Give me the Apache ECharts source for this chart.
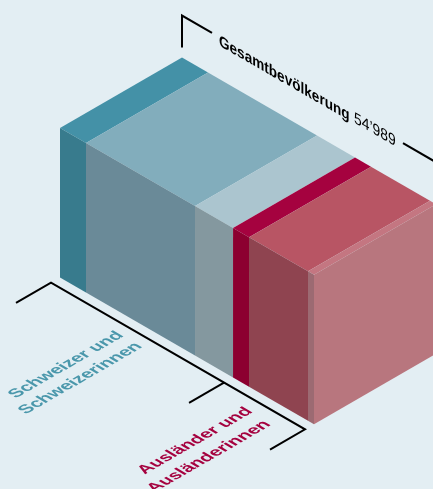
<!DOCTYPE html>
<html>
<head>
<meta charset="utf-8">
<style>html,body{margin:0;padding:0;background:#e3eef3}#chart{width:433px;height:489px}</style>
<script src="https://cdn.jsdelivr.net/npm/echarts@6/dist/echarts.min.js"></script>
</head>
<body>
<div id="chart"></div>
<script>
// Population segments along the long edge of the block, in thousands
const segmentValues = [5630, 23600, 8230, 3460, 12770, 1299];
const totalLabel = "54’989";
const totalValue = 54989;
const swissSegments = 3;

const topColors   = ['#4491a7', '#82adbc', '#abc5cf', '#a5023f', '#b85564', '#c47681'];
const frontColors = ['#387b8d', '#6a8a98', '#84989f', '#8c0030', '#8f4450', '#9c6a72'];
const sideColor = '#b8767e';
const swissColor = '#4a97ab';
const foreignColor = '#a5023f';

const swissLabel = ['Schweizer und', 'Schweizerinnen'];
const foreignLabel = ['Ausländer und', 'Ausländerinnen'];
const totalTitle = 'Gesamtbevölkerung';

// Isometric projection constants
const SLOPE = Math.tan(Math.PI / 6);
const DEPTH = 122;

let cum = 0;
const rows = segmentValues.map(function (v, i) {
  const row = [cum, cum + v, i];
  cum += v;
  return row;
});
const swissEnd = rows[swissSegments - 1][1];

// Maps (population, height, depth in px) to screen px via the chart's axes
function projector(api) {
  const x0 = api.coord([0, 0])[0];
  return function (pop, h, d) {
    const p = api.coord([pop, h]);
    return [p[0] + d, p[1] + (p[0] - x0) * SLOPE - d * SLOPE];
  };
}

function poly(points, fill) {
  return { type: 'polygon', shape: { points: points }, style: { fill: fill }, silent: true };
}

function polyline(points) {
  return { type: 'polyline', shape: { points: points }, style: { fill: 'none', stroke: '#000', lineWidth: 2 }, silent: true };
}

function renderBlock(params, api) {
  const a = api.value(0), b = api.value(1), i = api.value(2);
  const P = projector(api);
  const children = [
    poly([P(a, 1, 0), P(b, 1, 0), P(b, 1, DEPTH), P(a, 1, DEPTH)], topColors[i]),
    poly([P(a, 1, 0), P(b, 1, 0), P(b, 0, 0), P(a, 0, 0)], frontColors[i])
  ];
  if (i === segmentValues.length - 1) {
    children.push(poly([P(b, 1, 0), P(b, 1, DEPTH), P(b, 0, DEPTH), P(b, 0, 0)], sideColor));
  }
  return { type: 'group', children: children };
}

// Places text under an arbitrary linear map: u and v are the images of the
// glyph x and y axes. The map is split into rotate / scale / rotate so it can
// be expressed with nested group transforms.
function mappedText(text, at, u, v, font, fill) {
  const E = (u[0] + v[1]) / 2, F = (u[0] - v[1]) / 2, G = (u[1] + v[0]) / 2, H = (u[1] - v[0]) / 2;
  const Q = Math.hypot(E, H), R = Math.hypot(F, G);
  const a1 = Math.atan2(G, F), a2 = Math.atan2(H, E);
  const theta = (a2 - a1) / 2, phi = (a2 + a1) / 2;
  return {
    type: 'group', x: at[0], y: at[1], rotation: -phi, scaleX: Q + R, scaleY: Q - R,
    children: [{
      type: 'text', rotation: -theta, silent: true,
      style: { text: text, x: 0, y: 0, font: font, fill: fill, textAlign: 'left', textVerticalAlign: 'top' }
    }]
  };
}

const FACE_U = [0.866, 0.5], FACE_V = [0, 1];
const TITLE_U = [0.866 * 0.98, 0.5 * 0.98];
const FLOOR_U = [0.866 * 1.12, -0.5 * 1.12], FLOOR_V = [0.866 * 1.05, 0.5 * 1.05];

function renderNotes(params, api) {
  const P = projector(api);
  const FONT_B = 'bold 16px "Liberation Sans", Arial, sans-serif';
  const FONT_R = '16px "Liberation Sans", Arial, sans-serif';
  const top = 1 + 42 / 149.5;
  const f = -9, t = -44;
  const gapA = 30 * totalValue / 254, gapB = 221 * totalValue / 254;
  const tickEnd = 1 + 10 / 149.5;
  return {
    type: 'group',
    children: [
      // total bracket above the back edge
      polyline([P(0, tickEnd, DEPTH), P(0, top, DEPTH), P(gapA, top, DEPTH)]),
      polyline([P(gapB, top, DEPTH), P(totalValue, top, DEPTH)]),
      // group brackets on the floor in front of the block
      polyline([P(0, 0, t), P(0, 0, f), P(totalValue, 0, f), P(totalValue, 0, t)]),
      polyline([P(swissEnd, 0, f), P(swissEnd, 0, t)]),
      mappedText(totalTitle, [219, 33], TITLE_U, FACE_V, FONT_B, '#000'),
      mappedText(totalLabel, [354, 110], FACE_U, FACE_V, FONT_R, '#000'),
      mappedText(swissLabel[0], [4.5, 392], FLOOR_U, FLOOR_V, FONT_B, swissColor),
      mappedText(swissLabel[1], [14.5, 408], FLOOR_U, FLOOR_V, FONT_B, swissColor),
      mappedText(foreignLabel[0], [133.5, 468], FLOOR_U, FLOOR_V, FONT_B, foreignColor),
      mappedText(foreignLabel[1], [143, 486], FLOOR_U, FLOOR_V, FONT_B, foreignColor)
    ]
  };
}

const chart = echarts.init(document.getElementById('chart'), null, { renderer: 'canvas' });
chart.setOption({
  animation: false,
  backgroundColor: '#e3eef3',
  grid: { left: 60, top: 128, width: 254, height: 149.5 },
  xAxis: { type: 'value', min: 0, max: totalValue, show: false },
  yAxis: { type: 'value', min: 0, max: 1, show: false },
  series: [
    { type: 'custom', clip: false, renderItem: renderBlock, data: rows, silent: true },
    { type: 'custom', clip: false, renderItem: renderNotes, data: [[0, 0]], silent: true }
  ]
});
</script>
</body>
</html>
